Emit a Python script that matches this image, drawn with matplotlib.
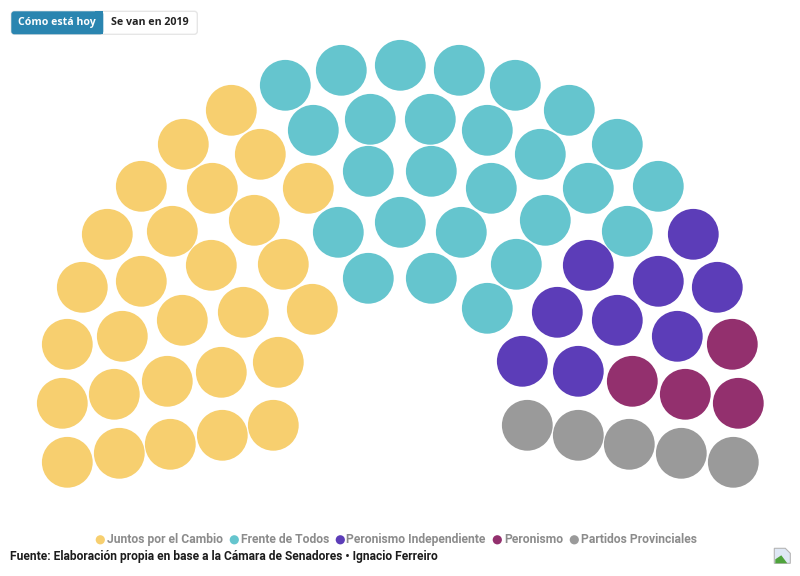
import matplotlib
matplotlib.use('Agg')
import matplotlib.pyplot as plt
from matplotlib.patches import Circle, FancyBboxPatch, Polygon, Rectangle

plt.rcParams['font.family'] = ['Roboto', 'DejaVu Sans']

juntos_x = [67, 62, 67, 82, 107, 141, 183, 231, 119, 114, 122, 141, 172, 212, 260,
            170, 167, 182, 211, 254, 308, 222, 221, 243, 283, 273, 278, 312]
juntos_y = [462, 403, 344, 287, 234, 186, 144, 110, 453, 394, 336, 281, 231, 188, 154,
            444, 381, 320, 265, 220, 188, 435, 372, 312, 264, 425, 362, 309]
frente_x = [285, 341, 400, 459, 515, 569, 617, 658, 313, 370, 430, 487, 540, 588, 627,
            368, 431, 491, 545, 338, 400, 461, 516, 368, 431, 487]
frente_y = [85, 70, 65, 70, 85, 110, 144, 186, 130, 119, 119, 130, 154, 188, 231,
            171, 171, 188, 220, 232, 222, 232, 264, 278, 278, 308]
indep_x = [693, 588, 658, 717, 557, 617, 677, 522, 578]
indep_y = [234, 265, 281, 287, 312, 320, 336, 361, 371]
peron_x = [732, 632, 685, 738]
peron_y = [344, 381, 394, 403]
prov_x = [527, 578, 629, 681, 733]
prov_y = [425, 435, 444, 453, 462]

bloques = [
    ('Juntos por el Cambio', '#f7cf6f', juntos_x, juntos_y, 95, 107),
    ('Frente de Todos', '#65c5ce', frente_x, frente_y, 229, 241),
    ('Peronismo Independiente', '#5c3db8', indep_x, indep_y, 335, 346),
    ('Peronismo', '#93306e', peron_x, peron_y, 492, 504),
    ('Partidos Provinciales', '#9a9a9a', prov_x, prov_y, 569, 581),
]

fig = plt.figure(figsize=(8, 5.76), dpi=100)
ax = fig.add_axes([0, 0, 1, 1])
ax.set_xlim(-0.3, 799.7)
ax.set_ylim(575.7, -0.3)
ax.axis('off')

for nombre, color, xs, ys, lx, tx in bloques:
    for x, y in zip(xs, ys):
        ax.add_patch(Circle((x, y), 25.4, fc=color, ec='none'))
    # leyenda
    ax.add_patch(Circle((lx + 5, 539.5), 4.6, fc=color, ec='none'))
    ax.text(tx, 539.5, nombre, fontsize=8.7, fontweight='bold', color='#8c8c8c',
            va='center', ha='left')

# botones
ax.add_patch(FancyBboxPatch((11, 11), 186, 23, boxstyle='round,pad=0,rounding_size=3',
                            fc='white', ec='#e6e6e6', lw=1))
ax.add_patch(FancyBboxPatch((11, 11), 92, 23, boxstyle='round,pad=0,rounding_size=3',
                            fc='#2a85b0', ec='none'))
ax.add_patch(Rectangle((95, 11), 8, 23, fc='#2a85b0', ec='none'))
ax.text(18, 22.5, 'Cómo está hoy', fontsize=7.6, fontweight='bold', color='white',
        family=['Open Sans', 'DejaVu Sans'], va='center', ha='left')
ax.text(111, 22.5, 'Se van en 2019', fontsize=7.7, fontweight='bold', color='#222222',
        family=['Open Sans', 'DejaVu Sans'], va='center', ha='left')

ax.text(10, 556.5, 'Fuente: Elaboración propia en base a la Cámara de Senadores • Ignacio Ferreiro',
        fontsize=8.62, fontweight='bold', color='#1c1c1c', va='center', ha='left')

# icono de imagen rota
ax.add_patch(Polygon([(774, 548), (785, 548), (790, 553), (790, 563), (774, 563)],
                     fc='#dfe8f5', ec='#b5b5b5', lw=0.8))
ax.add_patch(Polygon([(775, 563), (775, 559), (781, 555), (787, 563)], fc='#4fa33c', ec='none'))

fig.savefig('out.png', dpi=100)
